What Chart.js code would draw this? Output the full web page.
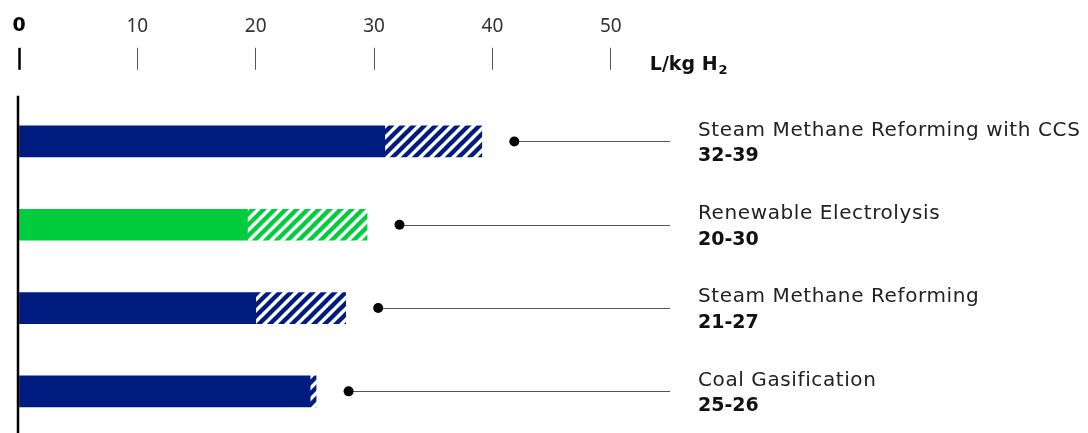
<!DOCTYPE html>
<html>
<head>
<meta charset="utf-8">
<script src="https://cdn.jsdelivr.net/npm/chart.js@4/dist/chart.umd.min.js"></script>
<style>
  html, body { margin: 0; padding: 0; background: #fff; }
  #wrap { width: 1088px; height: 433px; }
</style>
</head>
<body>
<div id="wrap"><canvas id="waterChart"></canvas></div>
<script>
const categories = ['Steam Methane Reforming with CCS', 'Renewable Electrolysis', 'Steam Methane Reforming', 'Coal Gasification'];
const rangeLabels = ['32-39', '20-30', '21-27', '25-26'];
// bar ends as drawn in the picture
const lowValues = [30.9, 19.3, 20.0, 24.6];
const highValues = [39.1, 29.4, 27.6, 25.1];
const barColors = ['#001c80', '#00cc3d', '#001c80', '#001c80'];
const tickValues = [0, 10, 20, 30, 40, 50];
const unitLabel = 'L/kg H';

const FONT = '"DejaVu Sans", sans-serif';
const TICK_FONT = '"Noto Sans", sans-serif';

function hatch(color) {
  const s = 11;
  const c = document.createElement('canvas');
  c.width = s;
  c.height = s;
  const g = c.getContext('2d');
  g.fillStyle = '#fff';
  g.fillRect(0, 0, s, s);
  g.strokeStyle = color;
  g.lineWidth = 4.4;
  g.beginPath();
  g.moveTo(-s / 2, s / 2); g.lineTo(s / 2, -s / 2);
  g.moveTo(0, s); g.lineTo(s, 0);
  g.moveTo(s / 2, s * 1.5); g.lineTo(s * 1.5, s / 2);
  g.stroke();
  return g.createPattern(c, 'repeat');
}

// dots, leader lines, right-hand labels and the unit label
const annotations = {
  id: 'annotations',
  afterDatasetsDraw(chart) {
    const { ctx, chartArea, scales: { x, y } } = chart;
    ctx.save();
    categories.forEach((name, i) => {
      const cy = y.getPixelForValue(i);
      const dotX = x.getPixelForValue(highValues[i]) + 32.5;
      ctx.strokeStyle = '#555';
      ctx.lineWidth = 1;
      ctx.beginPath();
      ctx.moveTo(dotX, Math.round(cy) + 0.5);
      ctx.lineTo(chartArea.right, Math.round(cy) + 0.5);
      ctx.stroke();
      ctx.fillStyle = '#000';
      ctx.beginPath();
      ctx.arc(dotX, cy, 5, 0, Math.PI * 2);
      ctx.fill();

      const tx = chartArea.right + 28;
      ctx.textAlign = 'left';
      ctx.textBaseline = 'middle';
      ctx.fillStyle = '#222';
      ctx.font = '20px ' + FONT;
      ctx.letterSpacing = '0.6px';
      ctx.fillText(name, tx, cy - 11);
      ctx.letterSpacing = '0px';
      ctx.fillStyle = '#111';
      ctx.font = 'bold 19px ' + FONT;
      ctx.fillText(rangeLabels[i], tx, cy + 15);
    });

    // unit label with subscript
    const ux = x.getPixelForValue(50) + 39;
    ctx.fillStyle = '#111';
    ctx.font = 'bold 19px ' + FONT;
    ctx.textBaseline = 'alphabetic';
    ctx.fillText(unitLabel, ux, 70);
    const w = ctx.measureText(unitLabel).width;
    ctx.font = 'bold 13px ' + FONT;
    ctx.fillText('2', ux + w + 1, 74);

    // vertical axis line
    ctx.strokeStyle = '#000';
    ctx.lineWidth = 2.5;
    ctx.beginPath();
    ctx.moveTo(x.getPixelForValue(0) - 1, chartArea.top - 4);
    ctx.lineTo(x.getPixelForValue(0) - 1, chart.height);
    ctx.stroke();
    ctx.restore();
  }
};

new Chart(document.getElementById('waterChart'), {
  type: 'bar',
  data: {
    labels: categories,
    datasets: [
      {
        label: 'Low',
        data: lowValues,
        backgroundColor: barColors,
        barThickness: 31
      },
      {
        label: 'High',
        data: highValues.map((v, i) => v - lowValues[i]),
        backgroundColor: barColors.map(hatch),
        barThickness: 31
      }
    ]
  },
  options: {
    indexAxis: 'y',
    responsive: true,
    maintainAspectRatio: false,
    animation: false,
    layout: { padding: { top: 5, left: 19, right: 418, bottom: -2 } },
    plugins: {
      legend: { display: false },
      tooltip: { enabled: false }
    },
    scales: {
      x: {
        position: 'top',
        stacked: true,
        min: 0,
        max: 55,
        afterBuildTicks(scale) {
          scale.ticks = tickValues.map(v => ({ value: v }));
        },
        border: { display: false },
        grid: {
          drawOnChartArea: false,
          drawTicks: true,
          tickLength: 52,
          tickBorderDash: [22, 100],
          tickColor: ctx => ctx.tick && ctx.tick.value === 0 ? '#000' : '#555',
          tickWidth: ctx => ctx.tick && ctx.tick.value === 0 ? 2.5 : 1
        },
        ticks: {
          padding: 10,
          color: ctx => ctx.tick && ctx.tick.value === 0 ? '#000' : '#333',
          font: ctx => ({
            family: ctx.tick && ctx.tick.value === 0 ? FONT : TICK_FONT,
            size: 19,
            weight: ctx.tick && ctx.tick.value === 0 ? 'bold' : 'normal'
          })
        }
      },
      y: {
        stacked: true,
        afterFit(scale) { scale.width = 0; },
        border: { display: false },
        grid: { display: false },
        ticks: { display: false }
      }
    }
  },
  plugins: [annotations]
});
</script>
</body>
</html>
